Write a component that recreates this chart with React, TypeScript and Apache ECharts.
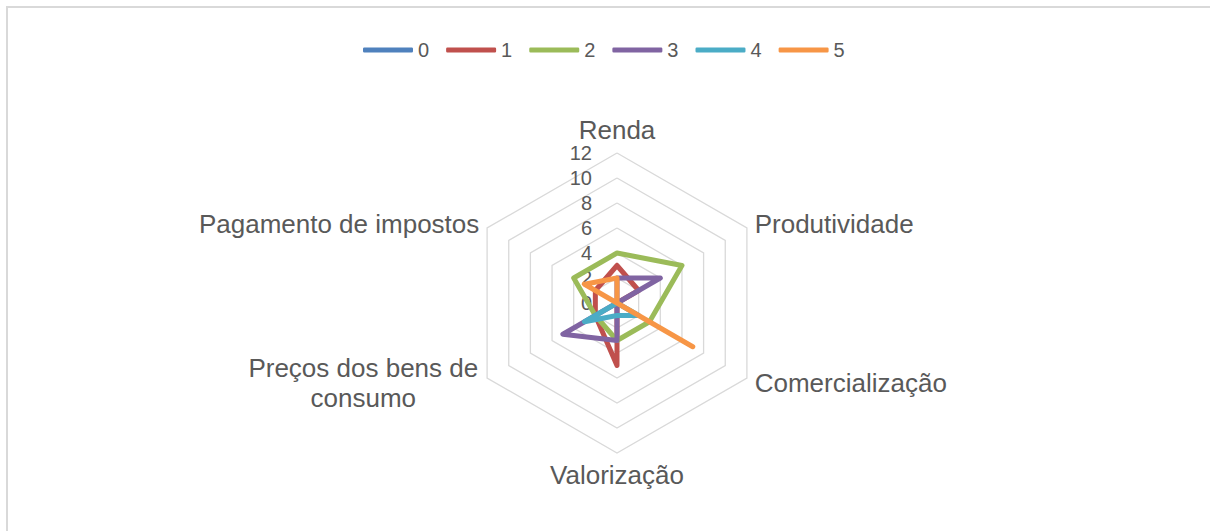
import React, { useEffect, useRef } from "react";
import * as echarts from "echarts";

const indicatorNames = [
  "Renda",
  "Produtividade",
  "Comercialização",
  "Valorização",
  "Preços dos bens de\nconsumo",
  "Pagamento de impostos",
];
const seriesNames = ["0", "1", "2", "3", "4", "5"];
const values0 = [0, 0, 0, 0, 0, 0];
const values1 = [3, 2, 0, 5, 2, 2];
const values2 = [4, 6, 3, 3, 2, 4];
const values3 = [2, 4, 0, 3, 5, 0];
const values4 = [0, 0, 2, 1, 3, 0];
const values5 = [2, 0, 7, 0, 0, 3];
const allValues = [values0, values1, values2, values3, values4, values5];
const palette = ["#4f81bd", "#c0504d", "#9bbb59", "#8064a2", "#4bacc6", "#f79646"];
const axisMin = 0;
const axisMax = 12;
const axisSplits = 6;

const FONT = "'Liberation Sans', Arial, sans-serif";
const TEXT = "#595959";

// ECharts draws indicators counter-clockwise; Excel draws them clockwise.
const order = [0, 5, 4, 3, 2, 1];

export default function App() {
  const ref = useRef<HTMLDivElement>(null);
  useEffect(() => {
    if (!ref.current) return;
    const chart = echarts.init(ref.current, null, { renderer: "svg" });
    const indicator = order.map((idx, i) => {
      const o: any = { name: indicatorNames[idx], min: axisMin, max: axisMax };
      if (i === 0) {
        o.axisLabel = {
          show: true,
          color: TEXT,
          fontSize: 20,
          fontFamily: FONT,
          margin: 25,
        };
      }
      return o;
    });
    chart.setOption({
      animation: false,
      textStyle: { fontFamily: FONT },
      legend: {
        data: seriesNames,
        top: 35,
        left: 358,
        icon: "roundRect",
        itemWidth: 50,
        itemHeight: 5,
        itemGap: 17,
        textStyle: { color: TEXT, fontSize: 20, fontFamily: FONT },
      },
      graphic: [
        {
          type: "rect",
          shape: { x: 7, y: 7, width: 1400, height: 800 },
          style: { fill: "none", stroke: "#d9d9d9", lineWidth: 2 },
          silent: true,
        },
      ],
      radar: {
        center: [617, 303],
        radius: 150,
        startAngle: 90,
        shape: "polygon",
        splitNumber: axisSplits,
        indicator,
        axisName: {
          color: TEXT,
          fontSize: 26,
          fontFamily: FONT,
          formatter: (v: string) =>
            v.indexOf("\n") >= 0
              ? v
                  .split("\n")
                  .map((l) => `{c|${l}}`)
                  .join("\n")
              : v,
          rich: {
            c: {
              width: 232,
              align: "center",
              color: TEXT,
              fontSize: 26,
              fontFamily: FONT,
              lineHeight: 30,
            },
          },
        },
        nameGap: 9,
        axisLine: { show: false },
        axisTick: { show: false },
        axisLabel: { show: false },
        splitArea: { show: false },
        splitLine: { lineStyle: { color: "#d9d9d9", width: 1.3 } },
      },
      series: [
        {
          type: "radar",
          symbol: "none",
          lineStyle: { width: 5, cap: "round", join: "round" },
          data: allValues.map((vals, i) => ({
            name: seriesNames[i],
            value: order.map((idx) => vals[idx]),
            itemStyle: { color: palette[i] },
            lineStyle: { color: palette[i], width: 5, cap: "round", join: "round" },
          })),
        },
      ],
    });
    return () => chart.dispose();
  }, []);
  return (
    <div
      ref={ref}
      style={{ position: "absolute", left: 0, top: 0, width: 1210, height: 531, background: "#fff" }}
    />
  );
}
